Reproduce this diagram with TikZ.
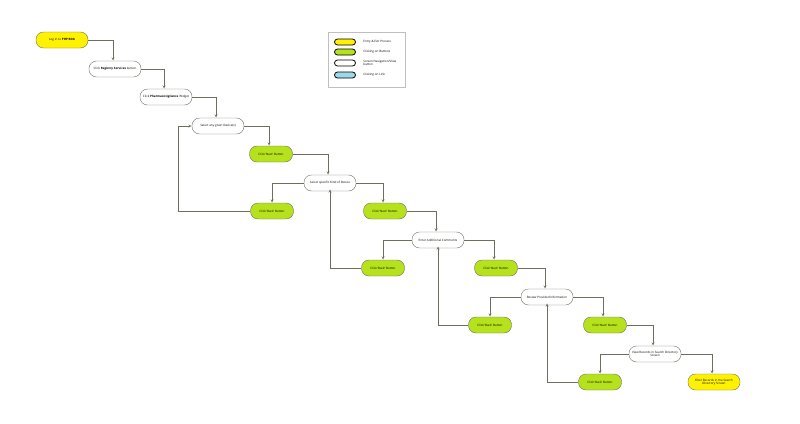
\documentclass[tikz,border=0pt]{standalone}
\usepackage{fontspec}
\setmainfont{Open Sans}
\definecolor{entryyellow}{HTML}{FFF200}
\definecolor{buttongreen}{HTML}{B5E21C}
\definecolor{linkblue}{HTML}{9ED8E8}
\definecolor{edgegray}{HTML}{6E6E60}
\begin{document}
\begin{tikzpicture}
[x=1pt,y=-1pt,
  stepdecorate/.style={shape=rectangle,rounded corners=7.5pt,draw=edgegray,thin,
    minimum height=16pt,inner sep=1pt,align=center,font=\fontsize{3}{3.5}\selectfont},
  entrydecorate/.style={stepdecorate,fill=entryyellow,minimum width=52pt},
  viewdecorate/.style={stepdecorate,fill=white,minimum width=52pt},
  buttondecorate/.style={stepdecorate,fill=buttongreen,minimum width=43pt},
  arrowdecorate/.style={->,>=stealth,draw=edgegray,thin,shorten >=0.3pt},
  swatchdecorate/.style={shape=rectangle,rounded corners=3pt,draw=black,thick,
    minimum width=21pt,minimum height=6pt,inner sep=0pt},
  legendtext/.style={anchor=west,font=\fontsize{3}{3.5}\selectfont,align=left}]
\useasboundingbox (0,0) rectangle (800,423);
%% nodes or vertices
\foreach \nodename/\x/\y/\kind/\text in {
  login/62/40/entry/{Log in to \textbf{PHP RDA}},
  registry/115/69/view/{Click \textbf{Registry Services} button},
  widget/166/97/view/{Click \textbf{Pharmacovigilance} Widget},
  anydevice/218/126/view/{Select any given Device(s)},
  next1/271/154/button/{Click `Next' Button},
  kinddevice/330/183/view/{Select specific Kind of Device},
  back1/272/211/button/{Click `Back' Button},
  next2/385/211/button/{Click `Next' Button},
  comments/438/240/view/{Enter Additional Comments},
  back2/383/268/button/{Click `Back' Button},
  next3/496/268/button/{Click `Next' Button},
  review/547/297/view/{Review Provided Information},
  back3/490/325/button/{Click `Back' Button},
  next4/605/325/button/{Click `Next' Button},
  records/655/354/view/{View Records in Search Directory\\Screen},
  back4/600/382/button/{Click `Back' Button},
  filter/714/382/entry/{Filter Records in the Search\\Directory Screen}}
{
  \node (\nodename) at (\x,\y) [\kind decorate] {\text};
}
%% edges or lines
\foreach \startnode/\endnode in {login/registry, registry/widget,
  widget/anydevice, anydevice/next1, next1/kinddevice, kinddevice/next2,
  next2/comments, comments/next3, next3/review, review/next4,
  next4/records, records/filter}
{
  \draw[arrowdecorate] (\startnode.east) -| ([xshift=-2pt]\endnode.north);
}
\foreach \startnode/\endnode in {kinddevice/back1, comments/back2,
  review/back3, records/back4}
{
  \draw[arrowdecorate] (\startnode.west) -| (\endnode.north);
}
\draw[arrowdecorate] (back1.west) -| ([xshift=-14pt]anydevice.west) -- (anydevice.west);
\foreach \startnode/\endnode in {back2/kinddevice, back3/comments, back4/review}
{
  \draw[arrowdecorate] (\startnode.west) -| ([yshift=2pt]\endnode.south);
}
%% legend
\node (legendbox) at (366.5,59.5) [draw=black!25,minimum width=77pt,minimum height=55pt] {};
\foreach \swatchname/\y/\colour/\text in {
  swatchentry/42/entryyellow/{Entry \& Exit Process},
  swatchbutton/52/buttongreen/{Clicking on Buttons},
  swatchview/63/white/{Screen Navigation/View\\button},
  swatchlink/75/linkblue/{Clicking on Link}}
{
  \node (\swatchname) at (345,\y) [swatchdecorate,fill=\colour] {};
  \node [legendtext] at ([xshift=4pt]\swatchname.east) {\text};
}
\end{tikzpicture}
\end{document}
